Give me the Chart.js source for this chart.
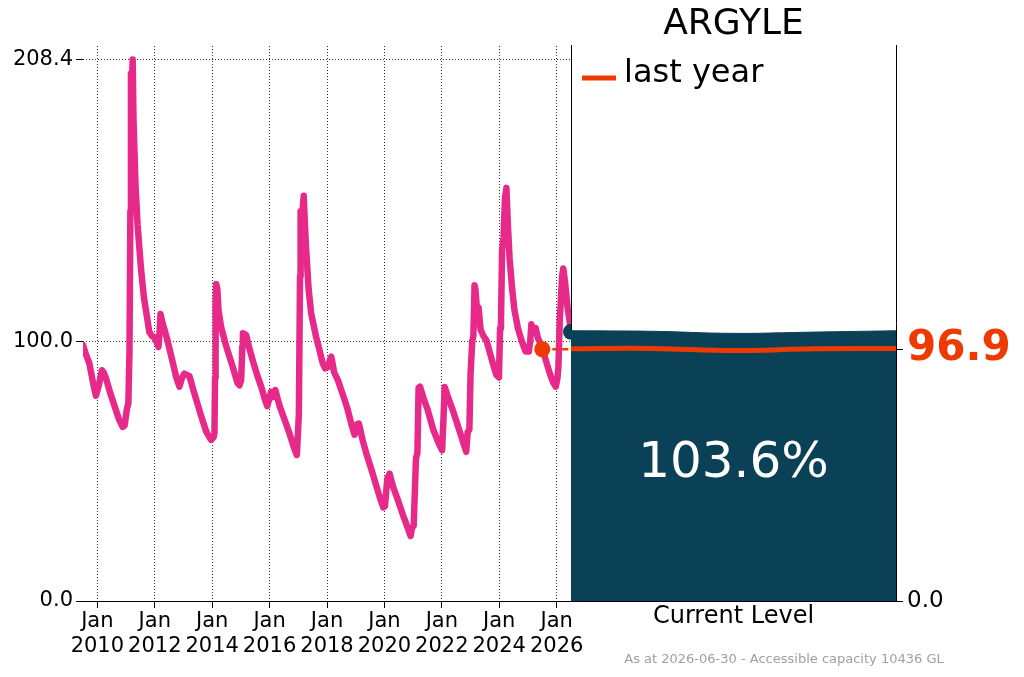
<!DOCTYPE html>
<html>
<head>
<meta charset="utf-8">
<script src="https://cdn.jsdelivr.net/npm/chart.js@4.4.1/dist/chart.umd.min.js"></script>
<style>
  html, body { margin: 0; padding: 0; background: #fff; }
  #wrap { position: relative; width: 1024px; height: 677px; overflow: hidden; }
  canvas { position: absolute; left: 0; top: 0; }
  #note { position: absolute; left: 571px; width: 426px; top: 651px; text-align: center;
          font: 13px 'DejaVu Sans', sans-serif; color: #a0a0a0; white-space: nowrap; }
</style>
</head>
<body>
<div id="wrap">
  <canvas id="hist" width="1024" height="677"></canvas>
  <canvas id="now" width="1024" height="677"></canvas>
  <div id="note">As at 2026-06-30 - Accessible capacity 10436 GL</div>
</div>
<script>
const PINK = '#e7298a';
const ORANGE = '#ee3a00';
const TEAL = '#0a4157';

// storage history (decimal year, level)
const histYears = [
  2009.50, 2009.60, 2009.72, 2009.85, 2009.95, 2010.05, 2010.16, 2010.22, 2010.30, 2010.45,
  2010.60, 2010.75, 2010.88, 2010.95, 2011.03, 2011.08, 2011.12, 2011.15, 2011.17, 2011.20,
  2011.23, 2011.26, 2011.33, 2011.40, 2011.52, 2011.62, 2011.72, 2011.81, 2011.90, 2011.99,
  2012.07, 2012.13, 2012.17, 2012.20, 2012.27, 2012.35, 2012.45, 2012.60, 2012.75, 2012.86,
  2012.95, 2013.03, 2013.21, 2013.35, 2013.50, 2013.65, 2013.80, 2013.96, 2014.05, 2014.08,
  2014.10, 2014.12, 2014.14, 2014.18, 2014.22, 2014.31, 2014.49, 2014.72, 2014.88, 2014.95,
  2015.01, 2015.05, 2015.07, 2015.18, 2015.30, 2015.41, 2015.55, 2015.71, 2015.85, 2015.92,
  2016.05, 2016.12, 2016.20, 2016.35, 2016.50, 2016.69, 2016.85, 2016.95, 2017.02, 2017.06,
  2017.08, 2017.13, 2017.19, 2017.23, 2017.27, 2017.36, 2017.45, 2017.62, 2017.75, 2017.85,
  2017.94, 2018.03, 2018.12, 2018.15, 2018.25, 2018.38, 2018.55, 2018.70, 2018.85, 2018.96,
  2019.05, 2019.11, 2019.25, 2019.37, 2019.55, 2019.70, 2019.85, 2019.96, 2020.02, 2020.10,
  2020.18, 2020.30, 2020.47, 2020.65, 2020.80, 2020.91, 2020.96, 2021.02, 2021.10, 2021.15,
  2021.19, 2021.24, 2021.38, 2021.51, 2021.70, 2021.88, 2022.01, 2022.05, 2022.10, 2022.20,
  2022.38, 2022.60, 2022.85, 2022.90, 2022.96, 2023.00, 2023.06, 2023.10, 2023.14, 2023.17,
  2023.24, 2023.28, 2023.35, 2023.45, 2023.55, 2023.78, 2023.90, 2023.99, 2024.03, 2024.06,
  2024.10, 2024.15, 2024.20, 2024.25, 2024.30, 2024.36, 2024.45, 2024.53, 2024.65, 2024.77,
  2024.85, 2024.92, 2025.03, 2025.08, 2025.12, 2025.18, 2025.27, 2025.35, 2025.47, 2025.60,
  2025.76, 2025.88, 2025.97, 2026.03, 2026.06, 2026.11, 2026.19, 2026.23, 2026.30, 2026.38,
  2026.46, 2026.50
];
const histLevels = [
  98.5, 95, 91.5, 84, 79, 83, 88.8, 88, 85.8, 80,
  75, 70, 67, 67.5, 74, 76, 96.5, 150, 203, 198,
  208.4, 185, 160, 145, 128, 117, 110, 103.5, 102, 101.5,
  99.5, 97.8, 104, 110.5, 107, 104, 100, 93, 86, 82.5,
  86, 87.5, 86.5, 81, 75.5, 70, 65, 62, 63, 64.6,
  86, 115, 122, 120, 112, 105.5, 98, 90, 84, 83,
  85, 98, 103, 102.5, 97, 92.7, 87.5, 82.4, 77, 75,
  80.5, 78.5, 81.2, 75, 70.5, 64.6, 59, 56.2, 72, 125,
  150, 148, 156, 145, 136, 120, 110.6, 101.7, 96, 91.5,
  89.5, 90, 93.5, 94, 88, 85, 79.5, 74.5, 68, 64,
  68, 68.3, 61.5, 56.8, 50.5, 45, 39.5, 36, 36.5, 47,
  49, 44, 38.8, 33, 28.5, 25, 28, 29, 55, 57,
  82, 82.5, 77.5, 73.5, 66, 61, 58, 68, 82.4, 79,
  73.5, 66, 57.4, 65, 66, 87, 100, 102, 121.5, 120,
  110, 113, 104.5, 102, 100.4, 91.4, 87, 86, 105, 107,
  135, 140, 155, 159, 145, 132, 120, 112, 105, 100.5,
  98, 96, 96, 100, 106.5, 104, 105, 101, 98.5, 93.5,
  87.6, 84, 82.5, 86, 90, 108, 125, 128, 122, 113,
  107, 103.6
];

const tickYears = [2010, 2012, 2014, 2016, 2018, 2020, 2022, 2024, 2026];
const levelTicks = [0, 100, 208.4];
const levelMax = 213.6;

const lastYearDate = 2025.5;
const lastYearLevel = 96.9;
const nowDate = 2026.5;
const currentLevel = 103.6;

// gently waving water surface in the current level panel
const waveX = [0, 0.25, 0.5, 0.75, 1];
const currentWave = [104.0, 103.8, 103.0, 103.5, 104.0];
const lastYearWave = [97.1, 97.2, 96.4, 97.1, 97.2];
const rightTicks = [0, lastYearLevel];

Chart.defaults.font.family = "'DejaVu Sans', sans-serif";
Chart.defaults.color = '#000';

const dotted = {
  color: '#000', lineWidth: 0.8, drawTicks: true, tickLength: 7,
  tickColor: '#000', tickWidth: 1, tickBorderDash: []
};

new Chart(document.getElementById('hist'), {
  type: 'line',
  data: {
    datasets: [
      {
        data: histYears.map((x, i) => ({ x, y: histLevels[i] })),
        borderColor: PINK, borderWidth: 6.5, pointRadius: 0, tension: 0,
        borderJoinStyle: 'round', borderCapStyle: 'round', order: 3
      },
      {
        data: [{ x: lastYearDate, y: lastYearLevel }, { x: nowDate, y: lastYearLevel }],
        borderColor: ORANGE, borderWidth: 2.5, borderDash: [6, 4], pointRadius: 0, order: 2
      },
      {
        data: [{ x: lastYearDate, y: lastYearLevel }],
        showLine: false, pointRadius: 8, backgroundColor: ORANGE, borderWidth: 0, order: 1
      },
      {
        data: [{ x: nowDate, y: currentLevel }],
        showLine: false, pointRadius: 8, backgroundColor: TEAL, borderWidth: 0, order: 1
      }
    ]
  },
  options: {
    responsive: false, animation: false,
    layout: { padding: { left: 0, top: 46, right: 453, bottom: 0 } },
    plugins: { legend: { display: false }, tooltip: { enabled: false } },
    scales: {
      x: {
        type: 'linear', min: 2009.5, max: 2026.5,
        afterBuildTicks: s => { s.ticks = tickYears.map(v => ({ value: v })); },
        afterFit: s => { s.height = 76; },
        ticks: { callback: v => ['Jan', String(v)], font: { size: 21 }, padding: 1, maxRotation: 0, autoSkip: false },
        grid: dotted,
        border: { display: true, color: '#000', width: 1, dash: [1, 2] }
      },
      y: {
        min: 0, max: levelMax,
        afterBuildTicks: s => { s.ticks = levelTicks.map(v => ({ value: v })); },
        afterFit: s => { s.width = 83; },
        ticks: { callback: v => v.toFixed(1), font: { size: 21 }, padding: 3 },
        grid: dotted,
        border: { display: false, dash: [1, 2] }
      }
    }
  }
});

const panelBack = {
  id: 'panelBack',
  beforeDraw(chart) {
    const { ctx, chartArea: a } = chart;
    ctx.save();
    ctx.fillStyle = '#fff';
    ctx.fillRect(a.left, a.top, a.right - a.left, a.bottom - a.top);
    ctx.restore();
  }
};

// white percentage label plus the "last year" key in the panel's top-left corner
const panelText = {
  id: 'panelText',
  afterDatasetsDraw(chart) {
    const { ctx, chartArea: a, scales } = chart;
    ctx.save();
    ctx.fillStyle = '#fff';
    ctx.font = "50px 'DejaVu Sans', sans-serif";
    ctx.textAlign = 'center';
    ctx.textBaseline = 'middle';
    ctx.fillText(currentLevel.toFixed(1) + '%', (a.left + a.right) / 2, scales.y.getPixelForValue(currentLevel * 0.5) - 2);

    const ds = chart.data.datasets[0];
    ctx.strokeStyle = ds.borderColor;
    ctx.lineWidth = 5;
    ctx.beginPath();
    ctx.moveTo(a.left + 11, a.top + 32);
    ctx.lineTo(a.left + 45, a.top + 32);
    ctx.stroke();
    ctx.fillStyle = '#000';
    ctx.font = "32px 'DejaVu Sans', sans-serif";
    ctx.textAlign = 'left';
    ctx.fillText(ds.label, a.left + 53, a.top + 28);
    ctx.restore();
  }
};

new Chart(document.getElementById('now'), {
  type: 'line',
  data: {
    datasets: [
      {
        label: 'last year',
        data: waveX.map((x, i) => ({ x, y: lastYearWave[i] })),
        borderColor: ORANGE, backgroundColor: ORANGE, borderWidth: 5, pointRadius: 0,
        tension: 0.4, fill: false, yAxisID: 'y', order: 1
      },
      {
        label: 'current',
        data: waveX.map((x, i) => ({ x, y: currentWave[i] })),
        borderColor: TEAL, backgroundColor: TEAL, borderWidth: 1, pointRadius: 0,
        tension: 0.4, fill: 'origin', yAxisID: 'y', order: 2
      }
    ]
  },
  options: {
    responsive: false, animation: false,
    layout: { padding: { left: 571, top: 2.8, right: 0, bottom: 0 } },
    plugins: {
      tooltip: { enabled: false },
      legend: { display: false },
      title: {
        display: true, text: 'ARGYLE', fullSize: false, color: '#000',
        font: { size: 36, weight: 'normal' }, padding: { top: 0, bottom: 0 }
      }
    },
    scales: {
      x: {
        type: 'linear', min: 0, max: 1,
        afterFit: s => { s.height = 76; },
        ticks: { display: false },
        grid: { display: false },
        border: { display: true, color: '#000', width: 1 },
        title: { display: true, text: 'Current Level', color: '#000', font: { size: 24 }, padding: { top: 0, bottom: 45.6 } }
      },
      y: {
        position: 'right', min: 0, max: levelMax,
        afterBuildTicks: s => { s.ticks = rightTicks.map(v => ({ value: v })); },
        afterFit: s => { s.width = 128; },
        ticks: {
          callback: v => v.toFixed(1), padding: 4,
          color: c => (c.tick && c.tick.value === lastYearLevel ? ORANGE : '#000'),
          font: c => (c.tick && c.tick.value === lastYearLevel ? { size: 42, weight: 'bold' } : { size: 23 })
        },
        grid: { drawOnChartArea: false, drawTicks: true, tickLength: 7, tickColor: '#000', tickWidth: 1 },
        border: { display: true, color: '#000', width: 1 }
      },
      yl: {
        position: 'left', min: 0, max: levelMax,
        afterFit: s => { s.width = 0; },
        ticks: { display: false },
        grid: { display: false },
        border: { display: true, color: '#000', width: 1 }
      }
    }
  },
  plugins: [panelBack, panelText]
});
</script>
</body>
</html>
